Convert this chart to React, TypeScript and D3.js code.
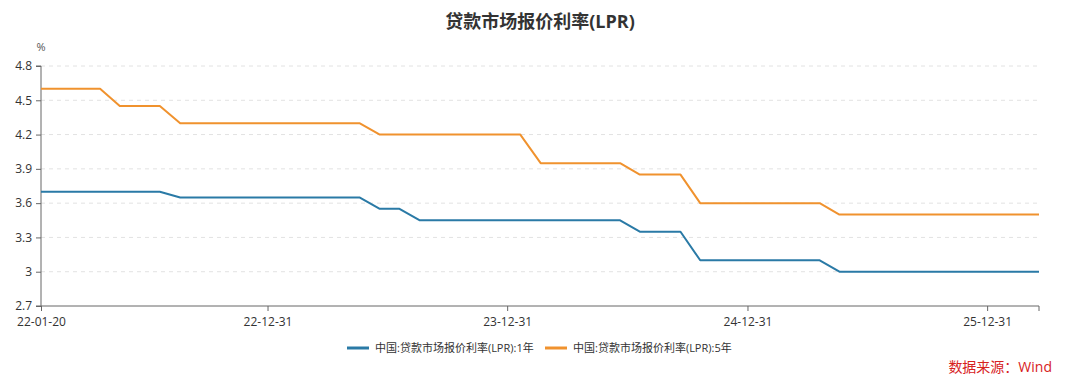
import { useRef, useEffect } from "react";
import * as d3 from "d3";

// monthly LPR fixing dates (20th of each month)
const dates = [
  "2022-01-20", "2022-02-20", "2022-03-20", "2022-04-20", "2022-05-20", "2022-06-20",
  "2022-07-20", "2022-08-20", "2022-09-20", "2022-10-20", "2022-11-20", "2022-12-20",
  "2023-01-20", "2023-02-20", "2023-03-20", "2023-04-20", "2023-05-20", "2023-06-20",
  "2023-07-20", "2023-08-20", "2023-09-20", "2023-10-20", "2023-11-20", "2023-12-20",
  "2024-01-20", "2024-02-20", "2024-03-20", "2024-04-20", "2024-05-20", "2024-06-20",
  "2024-07-20", "2024-08-20", "2024-09-20", "2024-10-20", "2024-11-20", "2024-12-20",
  "2025-01-20", "2025-02-20", "2025-03-20", "2025-04-20", "2025-05-20", "2025-06-20",
  "2025-07-20", "2025-08-20", "2025-09-20", "2025-10-20", "2025-11-20", "2025-12-20",
  "2026-01-20", "2026-02-20", "2026-03-20",
];

const lpr1y = [
  3.7, 3.7, 3.7, 3.7, 3.7, 3.7, 3.7, 3.65, 3.65, 3.65, 3.65, 3.65,
  3.65, 3.65, 3.65, 3.65, 3.65, 3.55, 3.55, 3.45, 3.45, 3.45, 3.45, 3.45,
  3.45, 3.45, 3.45, 3.45, 3.45, 3.45, 3.35, 3.35, 3.35, 3.1, 3.1, 3.1,
  3.1, 3.1, 3.1, 3.1, 3.0, 3.0, 3.0, 3.0, 3.0, 3.0, 3.0, 3.0,
  3.0, 3.0, 3.0,
];

const lpr5y = [
  4.6, 4.6, 4.6, 4.6, 4.45, 4.45, 4.45, 4.3, 4.3, 4.3, 4.3, 4.3,
  4.3, 4.3, 4.3, 4.3, 4.3, 4.2, 4.2, 4.2, 4.2, 4.2, 4.2, 4.2,
  4.2, 3.95, 3.95, 3.95, 3.95, 3.95, 3.85, 3.85, 3.85, 3.6, 3.6, 3.6,
  3.6, 3.6, 3.6, 3.6, 3.5, 3.5, 3.5, 3.5, 3.5, 3.5, 3.5, 3.5,
  3.5, 3.5, 3.5,
];

const seriesNames = ["中国:贷款市场报价利率(LPR):1年", "中国:贷款市场报价利率(LPR):5年"];
const seriesColors = ["#2a7aa6", "#f0922e"];
const yTicks = [2.7, 3, 3.3, 3.6, 3.9, 4.2, 4.5, 4.8];
const xTickDates = ["2022-01-20", "2022-12-31", "2023-12-31", "2024-12-31", "2025-12-31"];

const W = 1080;
const H = 386;
const FONT = "'Open Sans', 'Noto Sans CJK SC', sans-serif";

const App = () => {
  const svgRef = useRef<SVGSVGElement>(null);

  useEffect(() => {
    document.body.style.margin = "0";
    const parse = d3.timeParse("%Y-%m-%d");
    const xs = dates.map((d) => parse(d) as Date);

    const svg = d3.select(svgRef.current);
    svg.selectAll("*").remove();
    svg.attr("width", W).attr("height", H).style("font-family", FONT);

    const left = 41;
    const right = 1039;
    const top = 66;
    const bottom = 306;

    const xScale = d3.scaleTime().domain([xs[0], xs[xs.length - 1]]).range([left, right]);
    const yScale = d3.scaleLinear().domain([2.7, 4.8]).range([bottom, top]);

    // title
    svg
      .append("text")
      .attr("x", W / 2)
      .attr("y", 28)
      .attr("text-anchor", "middle")
      .style("font-size", "18px")
      .style("font-weight", "bold")
      .style("fill", "#333")
      .text("贷款市场报价利率(LPR)");

    // unit
    svg
      .append("text")
      .attr("x", 41)
      .attr("y", 51)
      .attr("text-anchor", "middle")
      .style("font-size", "11px")
      .style("fill", "#555")
      .text("%");

    // grid
    svg
      .append("g")
      .selectAll("line")
      .data(yTicks.slice(1))
      .join("line")
      .attr("x1", left)
      .attr("x2", right)
      .attr("y1", (d) => yScale(d))
      .attr("y2", (d) => yScale(d))
      .attr("stroke", "#e2e2e2")
      .attr("stroke-dasharray", "4,4");

    // y axis
    const yAxis = d3
      .axisLeft(yScale)
      .tickValues(yTicks)
      .tickSize(5)
      .tickPadding(4)
      .tickFormat((d) => d3.format("~g")(d as number));
    const gy = svg.append("g").attr("transform", `translate(${left},0)`).call(yAxis);
    gy.select(".domain").attr("stroke", "#666").attr("d", `M-5,${bottom}H0V${top}H-5`);
    gy.selectAll(".tick line").attr("stroke", "#666");
    gy.selectAll(".tick text").style("font-size", "12px").style("fill", "#333").style("font-family", FONT);

    // x axis
    const xTicks = xTickDates.map((d) => parse(d) as Date);
    const xAxis = d3
      .axisBottom(xScale)
      .tickValues(xTicks)
      .tickSize(5)
      .tickPadding(6)
      .tickFormat((d) => d3.timeFormat("%y-%m-%d")(d as Date));
    const gx = svg.append("g").attr("transform", `translate(0,${bottom})`).call(xAxis);
    gx.select(".domain").attr("stroke", "#666").attr("d", `M${left},0H${right}V5`);
    gx.selectAll(".tick line").attr("stroke", "#666");
    gx.selectAll(".tick text").style("font-size", "12px").style("fill", "#333").style("font-family", FONT);

    // lines
    const line = d3
      .line<number>()
      .x((d, i) => xScale(xs[i]))
      .y((d) => yScale(d));

    svg
      .append("g")
      .selectAll("path")
      .data([lpr1y, lpr5y])
      .join("path")
      .attr("d", (d) => line(d))
      .attr("fill", "none")
      .attr("stroke", (d, i) => seriesColors[i])
      .attr("stroke-width", 2)
      .attr("stroke-linejoin", "round");

    // legend
    const legendX = [347, 545];
    const lg = svg.append("g");
    seriesNames.forEach((name, i) => {
      lg.append("line")
        .attr("x1", legendX[i])
        .attr("x2", legendX[i] + 22)
        .attr("y1", 348)
        .attr("y2", 348)
        .attr("stroke", seriesColors[i])
        .attr("stroke-width", 3);
      lg.append("text")
        .attr("x", legendX[i] + 28)
        .attr("y", 352)
        .style("font-size", "11px")
        .style("fill", "#333")
        .text(name);
    });

    // source
    svg
      .append("text")
      .attr("x", 1052)
      .attr("y", 372)
      .attr("text-anchor", "end")
      .style("font-size", "14px")
      .style("fill", "#d7221e")
      .text("数据来源：Wind");
  }, []);

  return <svg ref={svgRef}></svg>;
};

export default App;
